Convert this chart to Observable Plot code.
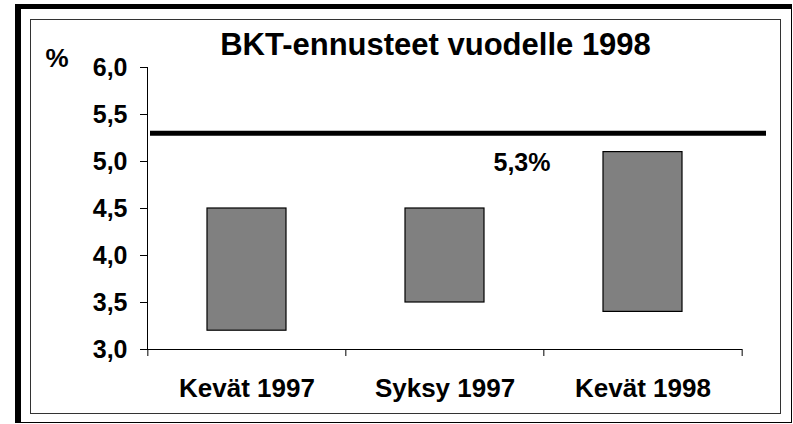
<!DOCTYPE html>
<html>
<head>
<meta charset="utf-8">
<script src="https://cdn.jsdelivr.net/npm/d3@7"></script>
<script src="https://cdn.jsdelivr.net/npm/@observablehq/plot@0.6"></script>
<style>
  html, body { margin: 0; padding: 0; background: #fff; }
  #wrap { position: relative; width: 793px; height: 424px; overflow: hidden; }
  #wrap svg { position: absolute; left: 0; top: 0; z-index: 1; }
  .outer { position: absolute; z-index: 2; pointer-events: none; left: 15px; top: 4px; width: 777px; height: 419px; box-sizing: border-box;
           border-top: 5px solid #000; border-left: 6px solid #000; border-right: 1px solid #000; border-bottom: 1px solid #000; }
  .inner { position: absolute; z-index: 2; pointer-events: none; left: 30px; top: 19px; width: 751px; height: 395px; box-sizing: border-box;
           border: 1.5px solid #333; }
</style>
</head>
<body>
<div id="wrap">
  <div class="outer"></div>
  <div class="inner"></div>
</div>
<script>
// ---- data ----
const title = "BKT-ennusteet vuodelle 1998";
const unitLabel = "%";
const categories = ["Kevät 1997", "Syksy 1997", "Kevät 1998"];
const lowValues = [3.2, 3.5, 3.4];
const highValues = [4.5, 4.5, 5.1];
const referenceValue = 5.3;
const referenceLabel = "5,3%";
const yTicks = [3.0, 3.5, 4.0, 4.5, 5.0, 5.5, 6.0];
const yTickLabels = ["3,0", "3,5", "4,0", "4,5", "5,0", "5,5", "6,0"];

// ---- layout ----
const W = 793, H = 424;
const mLeft = 147, mRight = 51, mTop = 67, mBottom = 75;
const step = (W - mLeft - mRight) / categories.length;
const font = "'Liberation Sans', Arial, sans-serif";

const rows = categories.map((c, i) => ({ cat: c, lo: lowValues[i], hi: highValues[i] }));
const tickLabelOf = new Map(yTicks.map((t, i) => [t, yTickLabels[i]]));

const chart = Plot.plot({
  width: W,
  height: H,
  marginLeft: mLeft,
  marginRight: mRight,
  marginTop: mTop,
  marginBottom: mBottom,
  style: { fontFamily: font, fontWeight: "bold", color: "#000", background: "transparent", overflow: "visible" },
  x: { type: "band", domain: categories, paddingInner: 0.6, paddingOuter: 0.3 },
  y: { domain: [3, 6] },
  marks: [
    // bars (range low..high)
    Plot.rectY(rows, { x: "cat", y1: "lo", y2: "hi", fill: "#808080", stroke: "#000", strokeWidth: 1.2 }),
    // reference line
    Plot.ruleY([referenceValue], { stroke: "#000", strokeWidth: 5, insetLeft: 3, insetRight: -24 }),
    Plot.text([referenceValue], { x: () => categories[1], y: d => d, text: () => referenceLabel,
      dx: 77, dy: 30, fontSize: 25, fontWeight: "bold", fill: "#000" }),
    // y axis
    Plot.axisY({ ticks: yTicks, tickFormat: d => tickLabelOf.get(d), tickSize: 7, tickPadding: 13,
      fontSize: 25, fontWeight: "bold", label: null, stroke: "#000" }),
    Plot.frame({ anchor: "left", stroke: "#000" }),
    // x axis
    Plot.axisX({ tickSize: 0, tickPadding: 29, fontSize: 26, fontWeight: "bold", label: null }),
    Plot.ruleY([3], { stroke: "#000" }),
    Plot.ruleX(categories, { x: d => d, y1: 3, y2: 3, insetBottom: -7, dx: -step / 2, stroke: "#000" }),
    Plot.ruleX(categories.slice(-1), { x: d => d, y1: 3, y2: 3, insetBottom: -7, dx: step / 2, stroke: "#000" }),
    // unit label and title
    Plot.text([unitLabel], { frameAnchor: "top-left", text: d => d, dx: -102, dy: -19, fontSize: 26, fontWeight: "bold", fill: "#000" }),
    Plot.text([title], { frameAnchor: "top", text: d => d, dx: -9.5, dy: -35, fontSize: 31, fontWeight: "bold", fill: "#000" })
  ]
});
document.getElementById("wrap").appendChild(chart);
</script>
</body>
</html>
